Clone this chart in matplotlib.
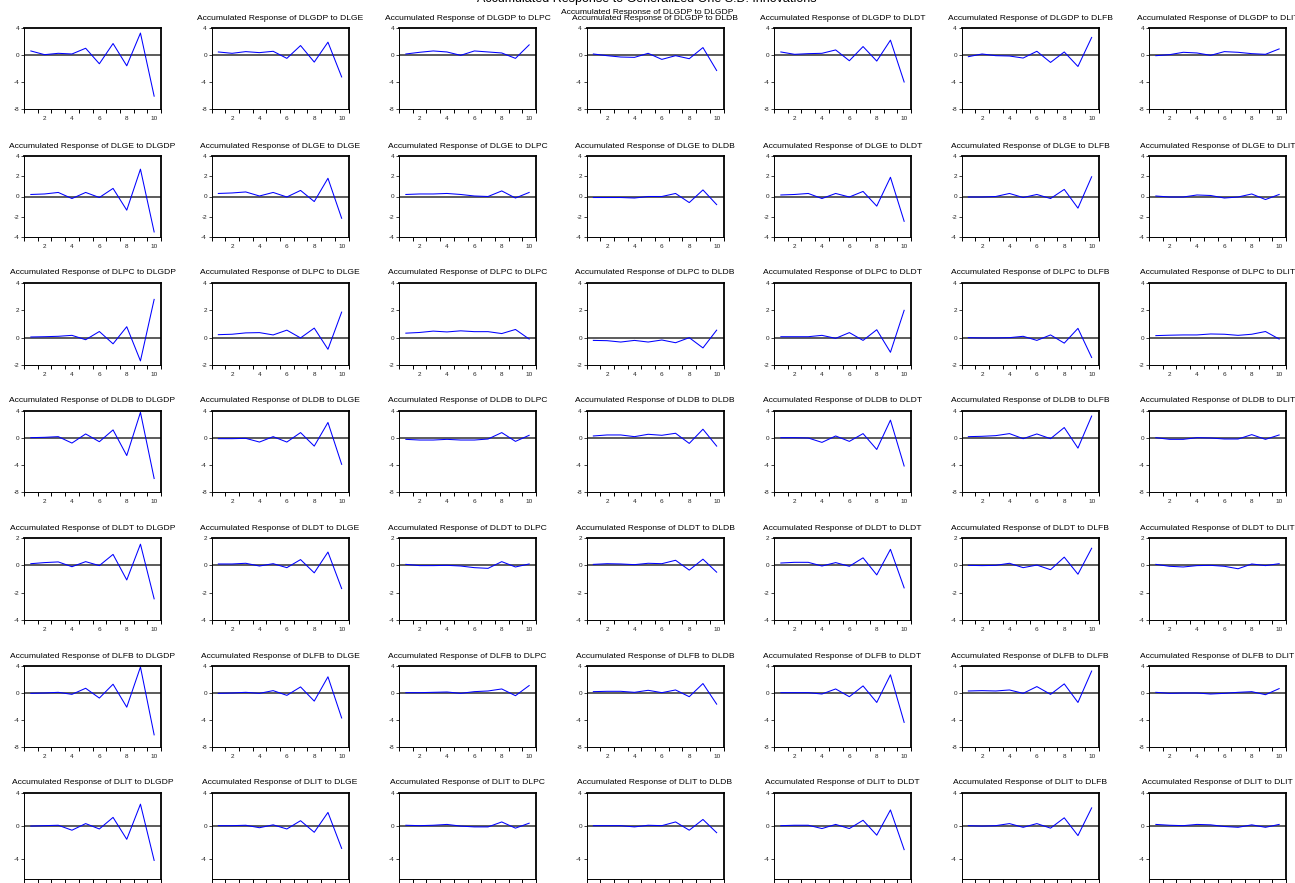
import matplotlib
matplotlib.use("Agg")
import matplotlib.pyplot as plt
from matplotlib.ticker import FixedLocator

plt.rcParams["font.family"] = ["Liberation Sans", "DejaVu Sans"]

variables = ["DLGDP", "DLGE", "DLPC", "DLDB", "DLDT", "DLFB", "DLIT"]
periods = list(range(1, 11))

# each list: response of one variable to shocks in DLGDP, DLGE, DLPC, DLDB, DLDT, DLFB, DLIT
resp_dlgdp = [
    [0.6, 0.05, 0.25, 0.15, 1.0, -1.3, 1.7, -1.6, 3.25, -6.1],
    [0.45, 0.25, 0.5, 0.35, 0.55, -0.5, 1.4, -1.05, 1.9, -3.25],
    [0.15, 0.4, 0.6, 0.45, -0.05, 0.6, 0.45, 0.3, -0.5, 1.5],
    [0.15, -0.1, -0.3, -0.35, 0.25, -0.65, -0.1, -0.55, 1.1, -2.3],
    [0.45, 0.1, 0.2, 0.25, 0.75, -0.85, 1.25, -0.9, 2.2, -4.0],
    [-0.25, 0.15, -0.1, -0.15, -0.45, 0.55, -1.1, 0.45, -1.7, 2.6],
    [-0.1, 0.05, 0.4, 0.3, -0.05, 0.5, 0.4, 0.2, 0.1, 0.9],
]
resp_dlge = [
    [0.2, 0.25, 0.4, -0.2, 0.4, -0.1, 0.8, -1.35, 2.7, -3.5],
    [0.3, 0.35, 0.45, 0.05, 0.4, -0.05, 0.6, -0.5, 1.8, -2.15],
    [0.2, 0.25, 0.25, 0.3, 0.2, 0.05, 0.0, 0.55, -0.15, 0.4],
    [-0.1, -0.1, -0.1, -0.15, 0.0, 0.0, 0.3, -0.6, 0.65, -0.8],
    [0.15, 0.2, 0.3, -0.2, 0.3, -0.05, 0.5, -0.95, 1.9, -2.45],
    [-0.05, -0.05, 0.0, 0.3, -0.1, 0.2, -0.2, 0.7, -1.15, 1.95],
    [0.05, -0.05, -0.05, 0.15, 0.1, -0.15, -0.05, 0.25, -0.3, 0.2],
]
resp_dlpc = [
    [0.05, 0.07, 0.1, 0.17, -0.15, 0.45, -0.45, 0.8, -1.7, 2.8],
    [0.22, 0.25, 0.35, 0.37, 0.2, 0.55, -0.02, 0.7, -0.85, 1.87],
    [0.33, 0.38, 0.48, 0.42, 0.5, 0.44, 0.44, 0.3, 0.6, -0.1],
    [-0.2, -0.22, -0.32, -0.2, -0.32, -0.17, -0.37, 0.0, -0.75, 0.55],
    [0.07, 0.07, 0.07, 0.17, -0.05, 0.37, -0.2, 0.58, -1.07, 2.0],
    [0.0, -0.02, -0.02, 0.0, 0.1, -0.2, 0.2, -0.4, 0.68, -1.45],
    [0.15, 0.18, 0.2, 0.2, 0.27, 0.25, 0.17, 0.25, 0.45, -0.1],
]
resp_dldb = [
    [0.05, 0.1, 0.2, -0.75, 0.6, -0.55, 1.2, -2.6, 3.8, -6.0],
    [-0.1, -0.1, -0.05, -0.6, 0.2, -0.6, 0.8, -1.2, 2.3, -3.9],
    [-0.2, -0.3, -0.3, -0.2, -0.3, -0.3, -0.15, 0.8, -0.5, 0.4],
    [0.3, 0.45, 0.45, 0.2, 0.55, 0.4, 0.7, -0.8, 1.3, -1.2],
    [0.05, 0.05, 0.0, -0.65, 0.3, -0.5, 0.65, -1.7, 2.65, -4.15],
    [0.2, 0.25, 0.35, 0.65, -0.1, 0.6, -0.1, 1.55, -1.5, 3.25],
    [0.05, -0.2, -0.2, 0.05, 0.0, -0.15, -0.15, 0.5, -0.2, 0.45],
]
resp_dldt = [
    [0.12, 0.2, 0.25, -0.1, 0.27, -0.02, 0.8, -1.07, 1.55, -2.45],
    [0.1, 0.1, 0.15, -0.05, 0.12, -0.17, 0.42, -0.55, 0.97, -1.7],
    [0.07, -0.02, -0.02, 0.0, -0.05, -0.17, -0.22, 0.27, -0.12, 0.1],
    [0.07, 0.12, 0.1, 0.05, 0.15, 0.12, 0.37, -0.35, 0.45, -0.5],
    [0.17, 0.22, 0.22, -0.05, 0.2, -0.07, 0.55, -0.7, 1.17, -1.65],
    [0.0, -0.02, 0.0, 0.15, -0.17, 0.02, -0.32, 0.6, -0.65, 1.25],
    [0.07, -0.07, -0.12, -0.02, 0.0, -0.07, -0.25, 0.1, -0.02, 0.12],
]
resp_dlfb = [
    [-0.05, 0.0, 0.1, -0.2, 0.7, -0.75, 1.3, -2.1, 3.85, -6.2],
    [-0.05, 0.0, 0.1, -0.05, 0.35, -0.35, 0.9, -1.2, 2.4, -3.7],
    [0.05, 0.05, 0.1, 0.15, -0.05, 0.2, 0.3, 0.6, -0.4, 1.1],
    [0.2, 0.25, 0.25, 0.1, 0.4, 0.05, 0.45, -0.55, 1.4, -1.65],
    [0.05, 0.05, 0.05, -0.15, 0.6, -0.55, 1.05, -1.4, 2.7, -4.35],
    [0.3, 0.35, 0.3, 0.45, -0.05, 0.95, -0.2, 1.35, -1.4, 3.25],
    [0.1, -0.05, 0.0, 0.0, -0.15, -0.05, 0.1, 0.2, -0.25, 0.65],
]
resp_dlit = [
    [0.0, 0.05, 0.1, -0.5, 0.3, -0.35, 1.05, -1.6, 2.65, -4.15],
    [0.05, 0.05, 0.1, -0.2, 0.15, -0.35, 0.65, -0.75, 1.65, -2.7],
    [0.1, 0.05, 0.1, 0.2, 0.0, -0.1, -0.1, 0.5, -0.25, 0.35],
    [0.05, 0.05, 0.05, -0.1, 0.1, 0.05, 0.5, -0.5, 0.8, -0.8],
    [0.05, 0.1, 0.1, -0.3, 0.2, -0.3, 0.7, -1.1, 1.95, -2.85],
    [0.05, 0.0, 0.05, 0.3, -0.15, 0.3, -0.25, 1.0, -1.15, 2.2],
    [0.2, 0.1, 0.05, 0.2, 0.15, -0.05, -0.15, 0.15, -0.15, 0.2],
]
responses = [resp_dlgdp, resp_dlge, resp_dlpc, resp_dldb, resp_dldt, resp_dlfb, resp_dlit]

y_limits = [(-8, 4), (-4, 4), (-2, 4), (-8, 4), (-4, 2), (-8, 4), (-6.4, 4)]
y_ticks = [
    [-8, -4, 0, 4],
    [-4, -2, 0, 2, 4],
    [-2, 0, 2, 4],
    [-8, -4, 0, 4],
    [-4, -2, 0, 2],
    [-8, -4, 0, 4],
    [-4, 0, 4],
]

W, H = 1295, 883
row_tops = [28, 156, 283, 411, 538, 666, 793]
row_heights = [81, 81, 82, 81, 82, 81, 86]
col_left0, col_step, ax_w = 24, 187.5, 137

fig = plt.figure(figsize=(W / 100, H / 100), dpi=100)

for i, resp_var in enumerate(variables):
    last_row = i == len(variables) - 1
    for j, shock_var in enumerate(variables):
        left = col_left0 + col_step * j
        top = row_tops[i]
        h = row_heights[i]
        ax = fig.add_axes([left / W, 1 - (top + h) / H, ax_w / W, h / H])
        ax.plot(periods, responses[i][j], color="#0000ff", lw=0.75)
        ax.axhline(0, color="#303030", lw=1.1, zorder=1)
        ax.set_xlim(0.5, 10.5)
        ax.set_ylim(*y_limits[i])
        ax.set_yticks(y_ticks[i])
        ax.set_yticklabels([str(t) for t in y_ticks[i]])
        ax.xaxis.set_major_locator(FixedLocator([2, 4, 6, 8, 10]))
        ax.xaxis.set_minor_locator(FixedLocator([k + 0.5 for k in range(11)]))
        # bottom row runs off the page, its labels are not visible
        ax.tick_params(axis="x", which="major", length=0, labelsize=4.6, pad=5, colors="#222222",
                       labelbottom=not last_row)
        ax.tick_params(axis="x", which="minor", length=3, width=0.7, direction="out")
        ax.tick_params(axis="y", length=2.5, width=0.6, direction="out", labelsize=4.6, pad=0.8,
                       colors="#222222")
        for side in ("left", "bottom"):
            ax.spines[side].set_linewidth(0.7)
        for side in ("top", "right"):
            ax.spines[side].set_linewidth(1.3)

        title = f"Accumulated Response of {resp_var} to {shock_var}"
        if i == 0 and j == 0:
            # this one ended up drawn in the middle, over the DLDB title
            fig.text(647 / W, 1 - 12 / H, title, ha="center", va="center", fontsize=6.1)
        else:
            fig.text((left + ax_w / 2) / W, 1 - (top - 10) / H, title,
                     ha="center", va="center", fontsize=6.1)

fig.text(647 / W, 1 - 2 / H, "Accumulated Response to Generalized One S.D. Innovations",
         ha="center", va="baseline", fontsize=9)

fig.savefig("out.png", dpi=100)
